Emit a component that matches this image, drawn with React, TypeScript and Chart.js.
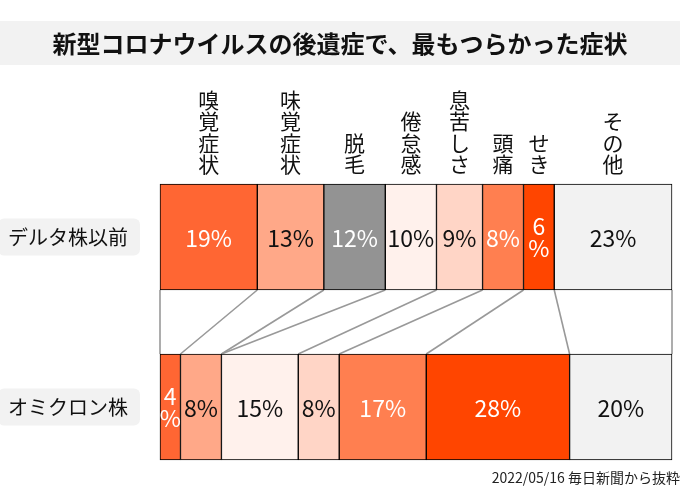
import React, { useEffect, useRef } from 'react';
import { Chart, registerables } from 'chart.js';

Chart.register(...registerables);

const FONT = '"Noto Sans CJK JP", "Noto Sans", sans-serif';

const titleText = '新型コロナウイルスの後遺症で、最もつらかった症状';
const sourceText = '2022/05/16 毎日新聞から抜粋';

const rows = ['デルタ株以前', 'オミクロン株'];
const symptoms = ['嗅覚症状', '味覚症状', '脱毛', '倦怠感', '息苦しさ', '頭痛', 'せき', 'その他'];
const deltaValues = [19, 13, 12, 10, 9, 8, 6, 23];
const omicronValues: (number | null)[] = [4, 8, null, 15, 8, 17, 28, 20];
const barColors = ['#ff6633', '#ffa888', '#939393', '#fff1ec', '#ffd5c6', '#ff7f50', '#ff4500', '#f2f2f2'];
const valueTextColors = ['#ffffff', '#111111', '#ffffff', '#111111', '#111111', '#ffffff', '#ffffff', '#111111'];

// midpoints of the top row segments, used as top-axis tick positions
const topMidpoints = (() => {
  let c = 0;
  return deltaValues.map((v) => {
    const m = c + v / 2;
    c += v;
    return m;
  });
})();

function roundRect(ctx: CanvasRenderingContext2D, x: number, y: number, w: number, h: number, r: number) {
  ctx.beginPath();
  ctx.moveTo(x + r, y);
  ctx.lineTo(x + w - r, y);
  ctx.arcTo(x + w, y, x + w, y + r, r);
  ctx.lineTo(x + w, y + h - r);
  ctx.arcTo(x + w, y + h, x + w - r, y + h, r);
  ctx.lineTo(x + r, y + h);
  ctx.arcTo(x, y + h, x, y + h - r, r);
  ctx.lineTo(x, y + r);
  ctx.arcTo(x, y, x + r, y, r);
  ctx.closePath();
  ctx.fill();
}

const decorPlugin = {
  id: 'decor',
  beforeDraw(chart: any) {
    const ctx = chart.ctx as CanvasRenderingContext2D;
    ctx.save();
    // title banner
    ctx.fillStyle = '#f2f2f2';
    ctx.fillRect(0, 21, chart.width, 44);
    // row label boxes
    const ys = chart.scales.y;
    ctx.font = `20px ${FONT}`;
    rows.forEach((r, i) => {
      const cy = ys.getPixelForValue(i);
      const w = ctx.measureText(r).width;
      const right = ys.right - 32;
      roundRect(ctx, right - w - 10, cy - 18.5, w + 22, 37, 6);
    });
    ctx.restore();
  },
  beforeDatasetsDraw(chart: any) {
    const ctx = chart.ctx as CanvasRenderingContext2D;
    const xs = chart.scales.x;
    const meta = chart.getDatasetMeta(0);
    const e0 = meta.data[0];
    const e1 = meta.data[1];
    const yTop = e0.y + e0.height / 2;
    const yBot = e1.y - e1.height / 2;
    const pairs: [number, number][] = [[0, 0]];
    let a = 0;
    let b = 0;
    for (let i = 0; i < symptoms.length; i++) {
      a += deltaValues[i] ?? 0;
      b += omicronValues[i] ?? 0;
      pairs.push([a, b]);
    }
    ctx.save();
    ctx.strokeStyle = '#999999';
    ctx.lineWidth = 1.6;
    pairs.forEach(([p, q]) => {
      ctx.beginPath();
      ctx.moveTo(xs.getPixelForValue(p), yTop);
      ctx.lineTo(xs.getPixelForValue(q), yBot);
      ctx.stroke();
    });
    ctx.restore();
  },
  afterDatasetsDraw(chart: any) {
    const ctx = chart.ctx as CanvasRenderingContext2D;
    ctx.save();
    ctx.font = `23px ${FONT}`;
    ctx.textAlign = 'center';
    ctx.textBaseline = 'middle';
    chart.data.datasets.forEach((ds: any, i: number) => {
      const meta = chart.getDatasetMeta(i);
      meta.data.forEach((el: any, j: number) => {
        const v = ds.data[j];
        if (v == null || !v) return;
        const { x, base, y } = el.getProps(['x', 'base', 'y'], true);
        const w = Math.abs(x - base);
        const cx = (x + base) / 2;
        const t = `${v}%`;
        ctx.fillStyle = valueTextColors[i];
        if (ctx.measureText(t).width > w - 4) {
          ctx.fillText(String(v), cx, y - 11);
          ctx.fillText('%', cx, y + 11);
        } else {
          ctx.fillText(t, cx, y + 1);
        }
      });
    });
    ctx.restore();
  },
};

export default function App() {
  const ref = useRef<HTMLCanvasElement>(null);

  useEffect(() => {
    const canvas = ref.current;
    if (!canvas) return;
    const chart = new Chart(canvas, {
      type: 'bar',
      data: {
        labels: rows,
        datasets: symptoms.map((s, i) => ({
          label: s,
          data: [deltaValues[i], omicronValues[i]],
          backgroundColor: barColors[i],
          borderColor: '#000000',
          borderWidth: 1,
          borderSkipped: false,
          barThickness: 106,
          clip: false as any,
        })),
      },
      options: {
        indexAxis: 'y',
        responsive: false,
        animation: false,
        devicePixelRatio: 1,
        layout: { padding: 0 },
        events: [],
        scales: {
          x: {
            type: 'linear',
            position: 'top',
            stacked: true,
            min: 0,
            max: 100,
            bounds: 'data',
            grid: { display: false, drawTicks: false },
            border: { display: false },
            afterBuildTicks: (scale: any) => {
              scale.ticks = topMidpoints.map((v) => ({ value: v }));
            },
            afterFit: (scale: any) => {
              scale.height = 237 - 68.4;
              scale.paddingLeft = 0;
              scale.paddingRight = 0;
            },
            ticks: {
              autoSkip: false,
              maxRotation: 0,
              minRotation: 0,
              padding: 62,
              color: '#111111',
              font: { family: FONT, size: 21, lineHeight: 1.02 },
              callback: (_v: any, idx: number) => symptoms[idx].split(''),
            },
          },
          y: {
            type: 'category',
            stacked: true,
            offset: false,
            grid: { display: false, drawTicks: false },
            border: { display: false },
            afterFit: (scale: any) => {
              scale.width = 160;
              scale.paddingTop = 0;
              scale.paddingBottom = 0;
            },
            ticks: {
              padding: 32,
              color: '#111111',
              font: { family: FONT, size: 20 },
            },
          },
          yRight: {
            type: 'category',
            position: 'right',
            display: true,
            grid: { display: false, drawTicks: false },
            border: { display: false },
            ticks: { display: false },
            afterFit: (scale: any) => {
              scale.width = 8;
              scale.paddingTop = 0;
              scale.paddingBottom = 0;
            },
          },
        },
        plugins: {
          legend: { display: false },
          tooltip: { enabled: false },
          title: {
            display: true,
            text: titleText,
            color: '#111111',
            font: { family: FONT, size: 24, weight: 'bold', lineHeight: 1.2 },
            padding: { top: 29.6, bottom: 10 },
          },
          subtitle: {
            display: true,
            position: 'bottom',
            align: 'end',
            text: sourceText,
            color: '#222222',
            font: { family: FONT, size: 14, lineHeight: 1.2 },
            padding: { top: 62.6, bottom: 1.6 },
          },
        },
      } as any,
      plugins: [decorPlugin],
    });
    return () => chart.destroy();
  }, []);

  return (
    <div style={{ position: 'absolute', left: 0, top: 0, width: 680, height: 488, background: '#ffffff' }}>
      <canvas ref={ref} width={680} height={488} style={{ display: 'block', width: 680, height: 488 }} />
    </div>
  );
}
